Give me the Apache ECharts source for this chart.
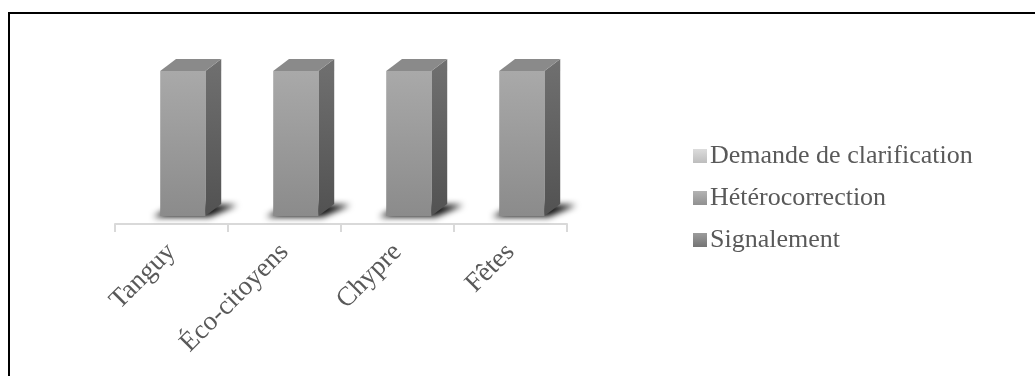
<!DOCTYPE html>
<html>
<head>
<meta charset="utf-8">
<script src="https://cdn.jsdelivr.net/npm/echarts@6/dist/echarts.min.js"></script>
<style>
  html, body { margin: 0; padding: 0; background: #fff; }
  #frame { position: absolute; left: 8px; top: 12px; width: 1100px; height: 420px;
           border-top: 2px solid #000; border-left: 2px solid #000; }
  #chart { position: absolute; left: 0; top: 0; width: 1035px; height: 376px; }
</style>
</head>
<body>
<div id="frame"></div>
<div id="chart"></div>
<script>
// Categories and series (share of each feedback type, in %)
const categories = ['Tanguy', 'Éco-citoyens', 'Chypre', 'Fêtes'];
const demandeClarification = [0, 0, 0, 0];
const heterocorrection = [100, 100, 100, 100];
const signalement = [0, 0, 0, 0];

const seriesNames = ['Demande de clarification', 'Hétérocorrection', 'Signalement'];
const seriesValues = [demandeClarification, heterocorrection, signalement];

// Face shades for each series: [front top, front bottom, side top, side bottom, top face]
const shades = [
  ['#dadada', '#c2c2c2', '#a3a3a3', '#8a8a8a', '#c4c4c4'],
  ['#a9a9a9', '#8b8b8b', '#707070', '#525252', '#8a8a8a'],
  ['#8c8c8c', '#6e6e6e', '#555555', '#3c3c3c', '#6e6e6e']
];
const legendColors = [
  ['#dcdcdc', '#bdbdbd'],
  ['#b3b3b3', '#909090'],
  ['#9c9c9c', '#747474']
];

const textColor = '#595959';
const serif = "'Liberation Serif', 'Times New Roman', serif";

function grad(c0, c1) {
  return new echarts.graphic.LinearGradient(0, 0, 0, 1, [
    { offset: 0, color: c0 }, { offset: 1, color: c1 }
  ]);
}

function stackBase(si, i) {
  let b = 0;
  for (let k = 0; k < si; k++) b += seriesValues[k][i];
  return b;
}
function isTopmost(si, i) {
  for (let k = si + 1; k < seriesValues.length; k++) if (seriesValues[k][i] > 0) return false;
  return true;
}

function makeRender(si) {
  return function (params, api) {
    const i = api.value(0);
    const v = api.value(1);
    if (!v) return;
    const base = stackBase(si, i);
    const p0 = api.coord([i, base]);
    const p1 = api.coord([i, base + v]);
    const band = api.size([1, 0])[0];
    const w = band * 0.40;
    const cx = p0[0] + band * 0.10;
    const fl = cx - w / 2, fr = cx + w / 2;
    const b = p0[1], t = p1[1];
    const dx = band * 0.14, dy = 12;
    const sh = shades[si];
    const children = [];
    if (base === 0) {
      // soft floor shadow, cast to the right of the column
      const off = 4000;
      children.push({
        type: 'polygon',
        shape: { points: [[fl - 7 - off, b + 1], [fr + 4 - off, b + 1], [fr + dx + 16 - off, b - dy + 1], [fl + dx - off, b - dy]] },
        style: { fill: '#000', shadowBlur: 6, shadowColor: 'rgba(0,0,0,0.95)', shadowOffsetX: off },
        silent: true
      });
    }
    // right side face
    children.push({
      type: 'polygon',
      shape: { points: [[fr, t], [fr + dx, t - dy], [fr + dx, b - dy], [fr, b]] },
      style: { fill: grad(sh[2], sh[3]) }
    });
    if (isTopmost(si, i)) {
      children.push({
        type: 'polygon',
        shape: { points: [[fl, t], [fl + dx, t - dy], [fr + dx, t - dy], [fr, t]] },
        style: { fill: sh[4] }
      });
    }
    // front face
    children.push({
      type: 'rect',
      shape: { x: fl, y: t, width: w, height: b - t },
      style: { fill: grad(sh[0], sh[1]) }
    });
    return { type: 'group', children: children };
  };
}

const chart = echarts.init(document.getElementById('chart'), null, { renderer: 'canvas' });

chart.setOption({
  animation: false,
  grid: { left: 115, right: 468, top: 71, bottom: 152, containLabel: false },
  legend: {
    orient: 'vertical',
    left: 688,
    top: 138,
    itemWidth: 14,
    itemHeight: 14,
    itemGap: 16,
    icon: 'rect',
    textStyle: { fontFamily: serif, fontSize: 26, color: textColor, padding: [0, 0, 0, -2] },
    data: seriesNames.map((n, k) => ({ name: n, itemStyle: { color: grad(legendColors[k][0], legendColors[k][1]) } }))
  },
  xAxis: {
    type: 'category',
    data: categories,
    axisLine: { onZero: false, lineStyle: { color: '#d9d9d9', width: 2 } },
    axisTick: { show: true, length: 8, lineStyle: { color: '#d9d9d9', width: 2 } },
    axisLabel: { rotate: 45, margin: 24, fontFamily: serif, fontSize: 27, color: textColor, interval: 0 }
  },
  yAxis: {
    // the floor sits a little below the column bases
    type: 'value', min: -5.5, max: 100, show: false, splitLine: { show: false }
  },
  series: seriesNames.map((n, k) => ({
    name: n,
    type: 'custom',
    clip: false,
    itemStyle: { color: grad(legendColors[k][0], legendColors[k][1]) },
    renderItem: makeRender(k),
    encode: { x: 0, y: 1 },
    data: seriesValues[k].map((v, i) => [i, v])
  }))
});
</script>
</body>
</html>
